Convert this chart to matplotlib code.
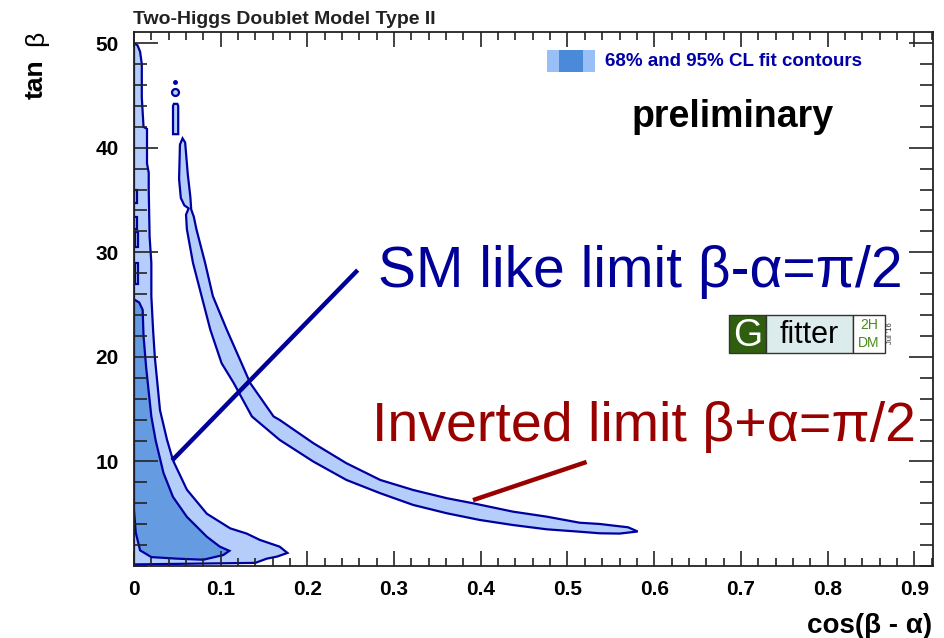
import matplotlib
matplotlib.use("Agg")
import matplotlib.pyplot as plt
from matplotlib.patches import Rectangle

plt.rcParams['font.family'] = ['Liberation Sans', 'DejaVu Sans']

W, H = 945, 638

# ---------------- data ----------------
x_ticks = [0, 0.1, 0.2, 0.3, 0.4, 0.5, 0.6, 0.7, 0.8, 0.9]
x_tick_labels = ["0", "0.1", "0.2", "0.3", "0.4", "0.5", "0.6", "0.7", "0.8", "0.9"]
y_ticks = [10, 20, 30, 40, 50]
y_tick_labels = ["10", "20", "30", "40", "50"]

# SM-like branch, 95% CL contour
sm95_x = [0.000, 0.000, 0.004, 0.007, 0.009, 0.009, 0.011, 0.015, 0.015, 0.017, 0.017,
          0.018, 0.020, 0.020, 0.022, 0.024, 0.030, 0.038, 0.045, 0.061, 0.084, 0.111,
          0.130, 0.145, 0.168, 0.177, 0.165, 0.153, 0.140, 0.000]
sm95_y = [0.15, 50.0, 49.8, 49.2, 48.0, 44.8, 42.0, 41.8, 38.5, 37.6, 36.0,
          31.5, 29.0, 25.8, 22.6, 20.0, 14.9, 12.1, 10.1, 7.3, 5.0, 3.6,
          3.1, 2.5, 1.85, 1.25, 0.9, 0.7, 0.3, 0.15]

# SM-like branch, 68% CL contour
sm68_x = [0.000, 0.006, 0.010, 0.011, 0.014, 0.020, 0.025, 0.034, 0.045, 0.061, 0.084,
          0.099, 0.110, 0.103, 0.080, 0.050, 0.020, 0.007, 0.002, 0.000]
sm68_y = [25.5, 25.2, 24.5, 22.0, 19.0, 14.3, 12.0, 8.9, 6.6, 4.7, 2.8,
          1.85, 1.45, 1.05, 0.6, 0.7, 0.85, 1.5, 3.2, 5.4]

# small 68% CL islands near cos(b-a)=0 : (x centre, y low, y high)
isl68 = [(0.002, 34.7, 36.0), (0.002, 32.2, 33.4), (0.003, 30.5, 31.9), (0.003, 27.0, 29.0)]

# inverted branch, 95% CL band (inner edge, then outer edge)
inv_inner_x = [0.056, 0.053, 0.052, 0.054, 0.058, 0.063, 0.060, 0.061, 0.068, 0.078, 0.088,
               0.101, 0.115, 0.136, 0.168, 0.207, 0.245, 0.284, 0.322, 0.361, 0.399,
               0.437, 0.476, 0.514, 0.537, 0.560, 0.581]
inv_inner_y = [40.9, 40.3, 37.0, 35.2, 34.5, 34.2, 33.6, 32.2, 29.0, 25.8, 22.6,
               19.4, 17.5, 14.3, 12.06, 9.98, 8.23, 6.96, 5.84, 5.04, 4.40,
               3.92, 3.51, 3.28, 3.13, 3.1, 3.3]
inv_outer_x = [0.570, 0.537, 0.514, 0.476, 0.437, 0.391, 0.361, 0.322, 0.284, 0.245, 0.207,
               0.168, 0.161, 0.134, 0.124, 0.107, 0.091, 0.082, 0.072, 0.069, 0.066,
               0.065, 0.062, 0.060, 0.059]
inv_outer_y = [3.7, 4.02, 4.14, 4.72, 5.20, 6.00, 6.48, 7.27, 8.23, 9.83, 11.74,
               13.97, 14.3, 17.5, 19.4, 22.6, 25.8, 29.0, 32.2, 33.4, 34.1,
               35.3, 37.5, 39.5, 40.5]

# islands of the inverted branch above the band
inv_isl_x = [0.045, 0.051, 0.051, 0.050, 0.046, 0.045]
inv_isl_y = [41.3, 41.3, 44.0, 44.2, 44.2, 44.0]
inv_ring = (0.047, 45.35)
inv_dot = (0.047, 46.25)

# annotation lines (x0, y0, x1, y1)
sm_line = (0.258, 28.3, 0.044, 10.1)
inv_line = (0.522, 9.95, 0.391, 6.3)

# ---------------- styling ----------------
c_light = "#B4CDFA"
c_dark = "#649BE1"
c_edge = "#0000A0"
c_sm = "#000099"
c_inv = "#990000"

fig = plt.figure(figsize=(W / 100, H / 100), dpi=100)
ax = fig.add_axes([134 / W, (638 - 566) / H, 799 / W, (566 - 31.7) / H])
ax.set_xlim(0, 0.9216)
ax.set_ylim(0, 51.1)
ax.set_axisbelow(False)

lw = 1.6
ax.fill(sm95_x, sm95_y, facecolor=c_light, edgecolor=c_edge, lw=lw, zorder=1)
ax.fill(sm68_x, sm68_y, facecolor=c_dark, edgecolor=c_edge, lw=lw, zorder=1.2)
for xc, yl, yh in isl68:
    ax.fill([xc - 0.002, xc + 0.002, xc + 0.002, xc - 0.002],
            [yl, yl, yh, yh], facecolor=c_light, edgecolor=c_edge, lw=lw, zorder=1.2)

ax.fill(inv_inner_x + inv_outer_x, inv_inner_y + inv_outer_y,
        facecolor=c_light, edgecolor=c_edge, lw=lw, zorder=1)
ax.fill(inv_isl_x, inv_isl_y, facecolor=c_light, edgecolor=c_edge, lw=lw, zorder=1)
ax.plot([inv_ring[0]], [inv_ring[1]], marker='o', ms=5, mfc=c_light, mec=c_edge,
        mew=1.6, zorder=1.3)
ax.plot([inv_dot[0]], [inv_dot[1]], marker='o', ms=2.5, color=c_edge, zorder=1.3)

# annotation lines
ax.plot([sm_line[0], sm_line[2]], [sm_line[1], sm_line[3]], color=c_sm, lw=3.2,
        solid_capstyle='butt', zorder=5)
ax.plot([inv_line[0], inv_line[2]], [inv_line[1], inv_line[3]], color=c_inv, lw=3.2,
        solid_capstyle='butt', zorder=5)

ax.text(0.281, 26.7, "SM like limit β-α=π/2", color=c_sm, fontsize=41,
        ha='left', va='baseline', zorder=6)
ax.text(0.2745, 11.96, "Inverted limit β+α=π/2", color=c_inv, fontsize=40,
        ha='left', va='baseline', zorder=6)

# axes / ticks
ax.set_xticks(x_ticks)
ax.set_xticklabels(x_tick_labels, fontsize=15, fontweight='bold')
ax.set_xticks([i * 0.02 for i in range(47)], minor=True)
ax.set_yticks(y_ticks)
ax.set_yticklabels(y_tick_labels, fontsize=15, fontweight='bold')
ax.set_yticks(list(range(0, 52, 2)), minor=True)
ax.tick_params(axis='x', which='major', direction='in', length=11, width=1.2,
               top=True, bottom=True, pad=10, color='#222222')
ax.tick_params(axis='x', which='minor', direction='in', length=6, width=1.2,
               top=True, bottom=True, color='#222222')
ax.tick_params(axis='y', which='major', direction='in', length=17.5, width=1.2,
               left=True, right=True, pad=11, color='#222222')
ax.tick_params(axis='y', which='minor', direction='in', length=9.5, width=1.2,
               left=True, right=True, color='#222222')
for s in ax.spines.values():
    s.set_linewidth(1.3)
    s.set_color('#222222')
    s.set_zorder(10)


def fx(px):
    return px / W


def fy(py):
    return 1 - py / H


# title
fig.text(fx(133), fy(24), "Two-Higgs Doublet Model Type II", fontsize=14,
         fontweight='bold', color='#222222', ha='left', va='baseline')

# axis titles
fig.text(fx(36), fy(79), "tan", fontsize=19, fontweight='bold', rotation=90,
         ha='center', va='center')
fig.text(fx(36), fy(38), "β", fontsize=19, rotation=90, ha='center', va='center')
fig.text(fx(932), fy(633), "cos(β - α)", fontsize=20, fontweight='bold',
         ha='right', va='baseline')

# legend
fig.add_artist(Rectangle((fx(547), fy(72)), (595 - 547) / W, 22 / H,
                         transform=fig.transFigure, facecolor="#99BFF7", edgecolor='none'))
fig.add_artist(Rectangle((fx(559), fy(72)), (583 - 559) / W, 22 / H,
                         transform=fig.transFigure, facecolor="#4A8AD8", edgecolor='none'))
fig.text(fx(605), fy(62), "68% and 95% CL fit contours", fontsize=13.5,
         fontweight='bold', color='#0000AA', ha='left', va='center')

fig.text(fx(632), fy(127), "preliminary", fontsize=27, fontweight='bold',
         color='black', ha='left', va='baseline')


# Gfitter logo
def rect(x0, y0, x1, y1, fc):
    fig.add_artist(Rectangle((fx(x0), fy(y1)), (x1 - x0) / W, (y1 - y0) / H,
                             transform=fig.transFigure, facecolor=fc,
                             edgecolor='#333333', lw=1.0, zorder=8))


rect(729, 315, 766, 353, "#2F5F0E")
rect(766, 315, 853, 353, "#DCEBEB")
rect(853, 315, 885, 353, "white")
fig.text(fx(747.5), fy(346), "G", fontsize=27, color='white', ha='center',
         va='baseline', zorder=9)
fig.text(fx(809.5), fy(343), "fitter", fontsize=22, color='black', ha='center',
         va='baseline', zorder=9)
fig.text(fx(869), fy(325), "2H", fontsize=10, color='#4A8A1A', ha='center',
         va='center', zorder=9)
fig.text(fx(869), fy(343), "DM", fontsize=10, color='#4A8A1A', ha='center',
         va='center', zorder=9)
fig.text(fx(891), fy(333), "Jul '16", fontsize=5.5, rotation=90, color='#333333',
         ha='center', va='center', zorder=9)

fig.savefig("out.png", dpi=100)
